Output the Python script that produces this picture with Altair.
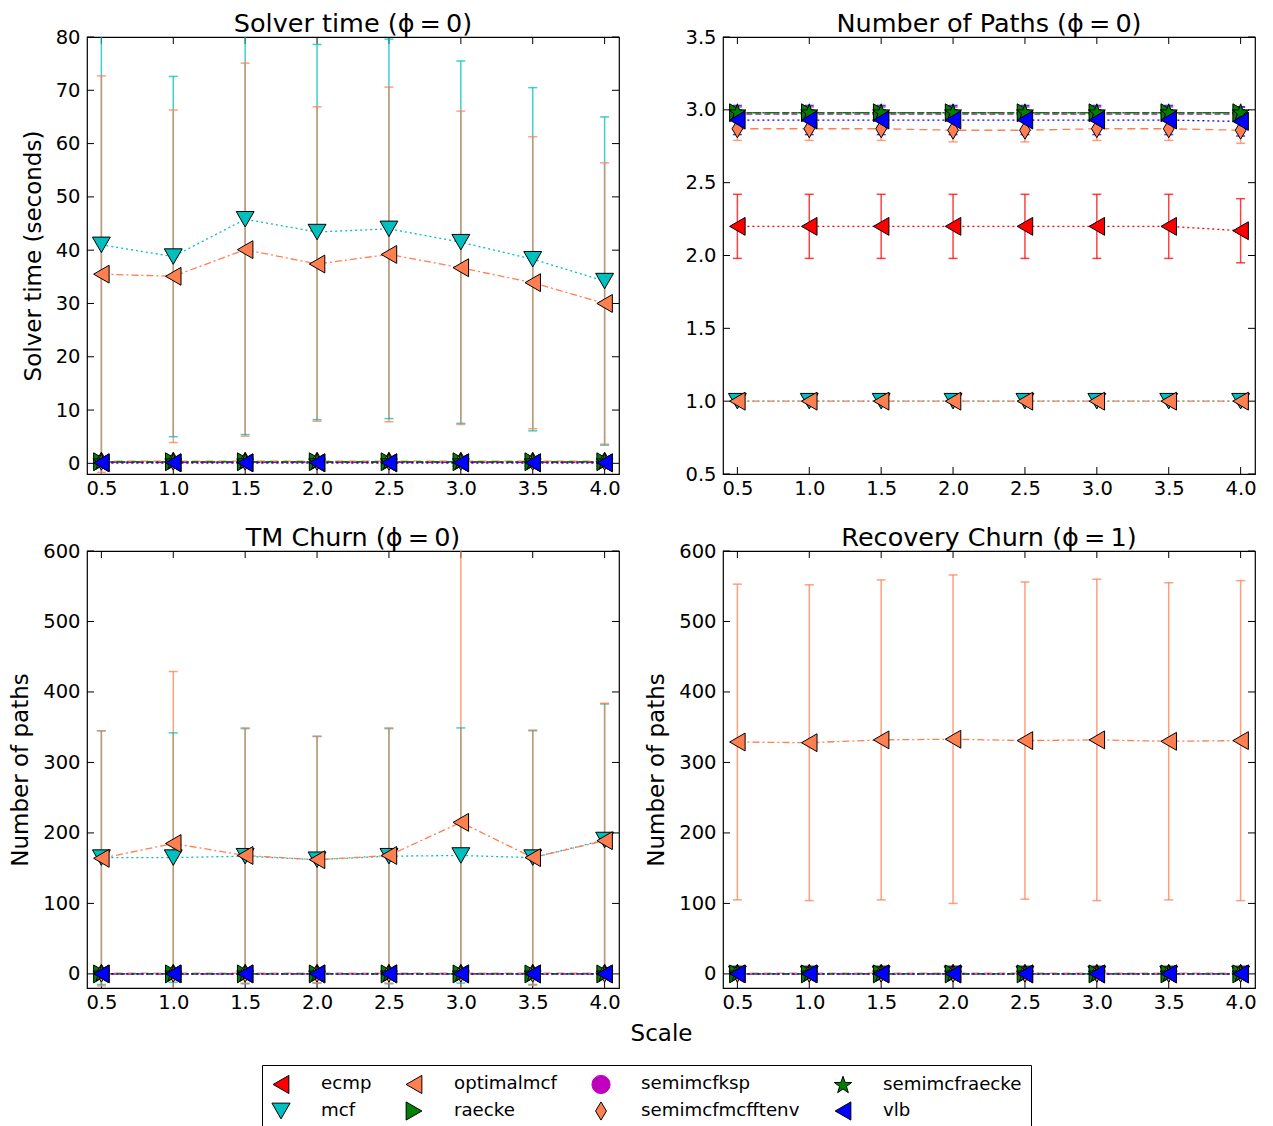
import altair as alt
import pandas as pd

# ---------------- data ----------------
scales = [0.5, 1.0, 1.5, 2.0, 2.5, 3.0, 3.5, 4.0]
series_names = ["ecmp", "mcf", "optimalmcf", "raecke", "semimcfksp",
                "semimcfmcfftenv", "semimcfraecke", "vlb"]
legend_order = ["ecmp", "optimalmcf", "semimcfksp", "semimcfraecke",
                "mcf", "raecke", "semimcfmcfftenv", "vlb"]

solver_mean = {
    "ecmp": [0.1, 0.1, 0.1, 0.1, 0.1, 0.1, 0.1, 0.1],
    "mcf": [41.0, 38.8, 45.8, 43.4, 44.0, 41.5, 38.3, 34.2],
    "optimalmcf": [35.5, 35.1, 40.1, 37.4, 39.2, 36.7, 33.9, 30.0],
    "raecke": [0.3, 0.3, 0.3, 0.3, 0.3, 0.3, 0.3, 0.3],
    "semimcfksp": [0.2, 0.2, 0.2, 0.2, 0.2, 0.2, 0.2, 0.2],
    "semimcfmcfftenv": [0.4, 0.4, 0.4, 0.4, 0.4, 0.4, 0.4, 0.4],
    "semimcfraecke": [0.3, 0.3, 0.3, 0.3, 0.3, 0.3, 0.3, 0.3],
    "vlb": [0.1, 0.1, 0.1, 0.1, 0.1, 0.1, 0.1, 0.1],
}
solver_sd = {
    "ecmp": [0.05, 0.05, 0.05, 0.05, 0.05, 0.05, 0.05, 0.05],
    "mcf": [44.0, 33.8, 40.4, 35.2, 35.6, 34.0, 32.2, 30.8],
    "optimalmcf": [37.2, 31.2, 35.0, 29.5, 31.4, 29.4, 27.4, 26.4],
    "raecke": [0.1, 0.1, 0.1, 0.1, 0.1, 0.1, 0.1, 0.1],
    "semimcfksp": [0.1, 0.1, 0.1, 0.1, 0.1, 0.1, 0.1, 0.1],
    "semimcfmcfftenv": [0.2, 0.2, 0.2, 0.2, 0.2, 0.2, 0.2, 0.2],
    "semimcfraecke": [0.1, 0.1, 0.1, 0.1, 0.1, 0.1, 0.1, 0.1],
    "vlb": [0.05, 0.05, 0.05, 0.05, 0.05, 0.05, 0.05, 0.05],
}

paths_mean = {
    "ecmp": [2.20, 2.20, 2.20, 2.20, 2.20, 2.20, 2.20, 2.17],
    "mcf": [1.0, 1.0, 1.0, 1.0, 1.0, 1.0, 1.0, 1.0],
    "optimalmcf": [1.0, 1.0, 1.0, 1.0, 1.0, 1.0, 1.0, 1.0],
    "raecke": [2.98, 2.98, 2.98, 2.98, 2.98, 2.98, 2.98, 2.98],
    "semimcfksp": [2.97, 2.97, 2.97, 2.97, 2.97, 2.97, 2.97, 2.97],
    "semimcfmcfftenv": [2.87, 2.87, 2.87, 2.86, 2.86, 2.87, 2.87, 2.86],
    "semimcfraecke": [2.98, 2.98, 2.98, 2.98, 2.98, 2.98, 2.98, 2.98],
    "vlb": [2.93, 2.93, 2.93, 2.93, 2.93, 2.93, 2.93, 2.92],
}
paths_sd = {
    "ecmp": [0.22, 0.22, 0.22, 0.22, 0.22, 0.22, 0.22, 0.22],
    "mcf": [0.0, 0.0, 0.0, 0.0, 0.0, 0.0, 0.0, 0.0],
    "optimalmcf": [0.0, 0.0, 0.0, 0.0, 0.0, 0.0, 0.0, 0.0],
    "raecke": [0.02, 0.02, 0.02, 0.02, 0.02, 0.02, 0.02, 0.02],
    "semimcfksp": [0.05, 0.05, 0.05, 0.05, 0.05, 0.05, 0.05, 0.05],
    "semimcfmcfftenv": [0.08, 0.08, 0.08, 0.08, 0.08, 0.08, 0.08, 0.09],
    "semimcfraecke": [0.02, 0.02, 0.02, 0.02, 0.02, 0.02, 0.02, 0.02],
    "vlb": [0.10, 0.10, 0.10, 0.10, 0.10, 0.10, 0.10, 0.10],
}

tm_mean = {
    "ecmp": [0, 0, 0, 0, 0, 0, 0, 0],
    "mcf": [165, 165, 167, 162, 167, 168, 165, 190],
    "optimalmcf": [164, 185, 168, 162, 168, 215, 165, 189],
    "raecke": [0, 0, 0, 0, 0, 0, 0, 0],
    "semimcfksp": [0, 0, 0, 0, 0, 0, 0, 0],
    "semimcfmcfftenv": [1, 1, 1, 1, 1, 1, 1, 1],
    "semimcfraecke": [0, 0, 0, 0, 0, 0, 0, 0],
    "vlb": [0, 0, 0, 0, 0, 0, 0, 0],
}
tm_sd = {
    "ecmp": [0, 0, 0, 0, 0, 0, 0, 0],
    "mcf": [180, 177, 181, 175, 181, 181, 180, 193],
    "optimalmcf": [181, 244, 181, 175, 181, 420, 181, 195],
    "raecke": [0, 0, 0, 0, 0, 0, 0, 0],
    "semimcfksp": [0, 0, 0, 0, 0, 0, 0, 0],
    "semimcfmcfftenv": [2, 2, 2, 2, 2, 2, 2, 2],
    "semimcfraecke": [0, 0, 0, 0, 0, 0, 0, 0],
    "vlb": [0, 0, 0, 0, 0, 0, 0, 0],
}

rec_mean = {
    "ecmp": [0, 0, 0, 0, 0, 0, 0, 0],
    "mcf": [0, 0, 0, 0, 0, 0, 0, 0],
    "optimalmcf": [329, 328, 332, 333, 331, 332, 330, 331],
    "raecke": [0, 0, 0, 0, 0, 0, 0, 0],
    "semimcfksp": [0, 0, 0, 0, 0, 0, 0, 0],
    "semimcfmcfftenv": [1, 1, 1, 1, 1, 1, 1, 1],
    "semimcfraecke": [0, 0, 0, 0, 0, 0, 0, 0],
    "vlb": [0, 0, 0, 0, 0, 0, 0, 0],
}
rec_sd = {
    "ecmp": [0, 0, 0, 0, 0, 0, 0, 0],
    "mcf": [0, 0, 0, 0, 0, 0, 0, 0],
    "optimalmcf": [224, 224, 227, 233, 225, 228, 225, 227],
    "raecke": [0, 0, 0, 0, 0, 0, 0, 0],
    "semimcfksp": [0, 0, 0, 0, 0, 0, 0, 0],
    "semimcfmcfftenv": [2, 2, 2, 2, 2, 2, 2, 2],
    "semimcfraecke": [0, 0, 0, 0, 0, 0, 0, 0],
    "vlb": [0, 0, 0, 0, 0, 0, 0, 0],
}

# ---------------- styles ----------------
FONT = "DejaVu Sans"
W, H = 532, 437
TICK = 7
STAR = ("M0,-1L0.235,-0.324L0.951,-0.309L0.38,0.124L0.588,0.809L0,0.4"
        "L-0.588,0.809L-0.38,0.124L-0.951,-0.309L-0.235,-0.324Z")
THIN_DIAMOND = "M0,-1L0.6,0L0,1L-0.6,0Z"
series_colors = {"ecmp": "#FF0000", "mcf": "#00BFBF", "optimalmcf": "#FF7F50",
                 "raecke": "#008000", "semimcfksp": "#BF00BF",
                 "semimcfmcfftenv": "#FF7F50", "semimcfraecke": "#008000",
                 "vlb": "#0000FF"}
series_edges = {s: ("#BF00BF" if s == "semimcfksp" else "black") for s in series_names}
series_shapes = {"ecmp": "triangle-left", "mcf": "triangle-down",
                 "optimalmcf": "triangle-left", "raecke": "triangle-right",
                 "semimcfksp": "circle", "semimcfmcfftenv": THIN_DIAMOND,
                 "semimcfraecke": STAR, "vlb": "triangle-left"}
series_dash = {"ecmp": [2, 3], "mcf": [2, 3], "optimalmcf": [7, 3, 2, 3],
               "raecke": [6, 3], "semimcfksp": [6, 3], "semimcfmcfftenv": [8, 5],
               "semimcfraecke": [7, 3, 2, 3], "vlb": [2, 3]}

color_scale = alt.Scale(domain=series_names,
                        range=[series_colors[s] for s in series_names])
dash_scale = alt.Scale(domain=series_names,
                       range=[series_dash[s] for s in series_names])
fill_scale = alt.Scale(domain=legend_order,
                       range=[series_colors[s] for s in legend_order])
edge_scale = alt.Scale(domain=legend_order,
                       range=[series_edges[s] for s in legend_order])
shape_scale = alt.Scale(domain=legend_order,
                        range=[series_shapes[s] for s in legend_order])

legend = alt.Legend(title=None, orient="none", legendX=175, legendY=1028,
                    columns=4, direction="horizontal", strokeColor="black",
                    fillColor="white", padding=9, labelFontSize=18.2,
                    labelFont=FONT, labelColor="black", symbolSize=330,
                    symbolStrokeWidth=1, columnPadding=32, rowPadding=3,
                    labelOffset=30, symbolOpacity=1, labelLimit=300)


def panel(mean, sd, ydom, yvals, yfmt, title, ytitle, xtitle=None):
    rows = []
    for i, s in enumerate(series_names):
        for x, m, d in zip(scales, mean[s], sd[s]):
            rows.append(dict(scale=x, series=s, mean=m, lo=m - d, hi=m + d, sidx=i))
    df = pd.DataFrame(rows)
    xt = pd.DataFrame({"v": scales})
    yt = pd.DataFrame({"v": yvals})

    xaxis_kw = dict(values=scales, format=".1f", labelFontSize=19.5,
                    labelPadding=5, labelFlush=False)
    if xtitle:
        xaxis_kw.update(title=xtitle, titleX=574, titleY=34,
                        titleAlign="center", titleBaseline="top")
    else:
        xaxis_kw.update(title=None)
    xaxis = alt.Axis(**xaxis_kw)
    xsc = alt.Scale(domain=[0.4, 4.1], nice=False, zero=False)
    ysc = alt.Scale(domain=ydom, nice=False, zero=False)
    yaxis_kw = dict(values=yvals, format=yfmt, labelFontSize=19.5,
                    labelPadding=7, labelFlush=False, titlePadding=10)
    yaxis_kw.update(title=ytitle if ytitle else None)
    yaxis = alt.Axis(**yaxis_kw)

    X = alt.X("scale:Q", scale=xsc, axis=xaxis)
    base = alt.Chart(df)
    C = alt.Color("series:N", scale=color_scale, legend=None)

    lines = base.mark_line(strokeWidth=1.3, clip=True).encode(
        x=X,
        y=alt.Y("mean:Q", scale=ysc, axis=yaxis),
        color=C,
        strokeDash=alt.StrokeDash("series:N", scale=dash_scale, legend=None),
        detail="series:N",
    )
    bars = base.mark_rule(strokeWidth=1.5, opacity=0.75, clip=True).encode(
        x=X, y=alt.Y("lo:Q", scale=ysc, axis=yaxis), y2="hi:Q", color=C,
    )
    cap_lo = base.mark_tick(orient="horizontal", size=9, thickness=1.5,
                            opacity=0.75, clip=True).encode(
        x=X, y=alt.Y("lo:Q", scale=ysc, axis=yaxis), color=C,
    )
    cap_hi = base.mark_tick(orient="horizontal", size=9, thickness=1.5,
                            opacity=0.75, clip=True).encode(
        x=X, y=alt.Y("hi:Q", scale=ysc, axis=yaxis), color=C,
    )
    pts = base.mark_point(filled=True, strokeWidth=1, opacity=1, clip=True).encode(
        x=X,
        y=alt.Y("mean:Q", scale=ysc, axis=yaxis),
        fill=alt.Fill("series:N", scale=fill_scale, legend=legend),
        shape=alt.Shape("series:N", scale=shape_scale, legend=legend),
        stroke=alt.Stroke("series:N", scale=edge_scale, legend=legend),
        size=alt.condition(alt.datum.series == "semimcfksp",
                           alt.value(80), alt.value(320)),
        order=alt.Order("sidx:Q"),
    )
    # inward tick marks on all four sides, placed by the axis scales
    XT = alt.X("v:Q", scale=xsc, axis=xaxis)
    YT = alt.Y("v:Q", scale=ysc, axis=yaxis)
    xt_bot = alt.Chart(xt).mark_rule(color="black", strokeWidth=1).encode(
        x=XT, y=alt.value(H), y2=alt.value(H - TICK))
    xt_top = alt.Chart(xt).mark_rule(color="black", strokeWidth=1).encode(
        x=XT, y=alt.value(0), y2=alt.value(TICK))
    yt_left = alt.Chart(yt).mark_rule(color="black", strokeWidth=1).encode(
        y=YT, x=alt.value(0), x2=alt.value(TICK))
    yt_right = alt.Chart(yt).mark_rule(color="black", strokeWidth=1).encode(
        y=YT, x=alt.value(W - TICK), x2=alt.value(W))

    return alt.layer(xt_bot, xt_top, yt_left, yt_right,
                     lines, bars, cap_lo, cap_hi, pts).properties(
        width=W, height=H,
        title=alt.TitleParams(text=title, fontSize=25.5, fontWeight="normal",
                              font=FONT, color="black", offset=-10),
    )


tl = panel(solver_mean, solver_sd, [-2, 80], list(range(0, 81, 10)), "d",
           "Solver time (\u03d5\u2009=\u20090)", "Solver time (seconds)")
tr = panel(paths_mean, paths_sd, [0.5, 3.5], [0.5, 1.0, 1.5, 2.0, 2.5, 3.0, 3.5],
           ".1f", "Number of Paths (\u03d5\u2009=\u20090)", None)
bl = panel(tm_mean, tm_sd, [-20, 600], list(range(0, 601, 100)), "d",
           "TM Churn (\u03d5\u2009=\u20090)", "Number of paths", xtitle="Scale")
br = panel(rec_mean, rec_sd, [-20, 600], list(range(0, 601, 100)), "d",
           "Recovery Churn (\u03d5\u2009=\u20091)", "Number of paths")

chart = alt.concat(tl, tr, bl, br, columns=2, bounds="flush",
                   spacing={"row": 77, "column": 104}).properties(
    padding={"left": 1, "top": 2, "right": 5, "bottom": 5},
).configure_view(stroke="black", strokeWidth=1.2).configure_axis(
    labelFont=FONT, titleFont=FONT, labelColor="black", titleColor="black",
    titleFontWeight="normal", titleFontSize=23, ticks=False, domain=False,
    grid=False,
)

chart.save("out.html", embed_options={"renderer": "svg", "actions": False})
